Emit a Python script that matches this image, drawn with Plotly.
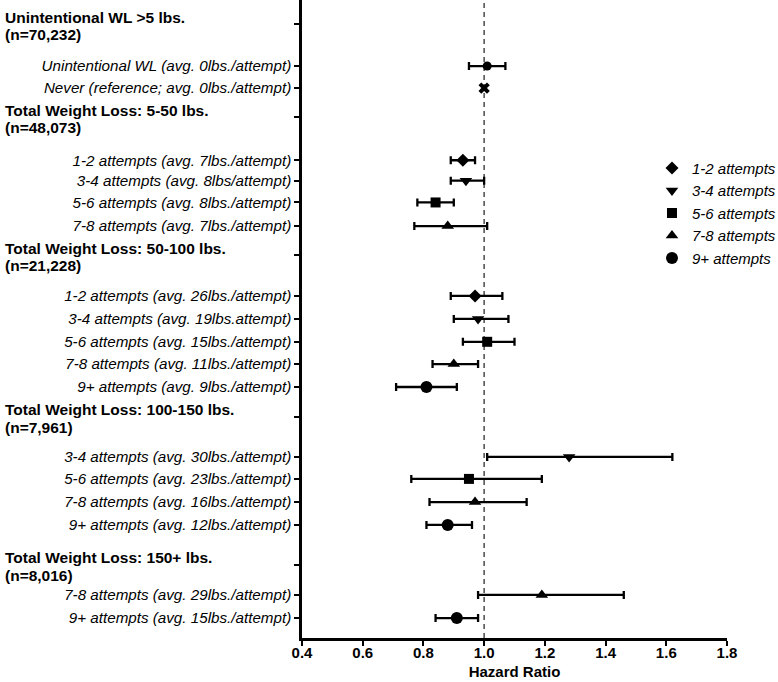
import plotly.graph_objects as go

# header rows (left aligned, bold, two lines)
HEADERS = [
    ("Unintentional WL >5 lbs.", "(n=70,232)"),
    ("Total Weight Loss: 5-50 lbs.", "(n=48,073)"),
    ("Total Weight Loss: 50-100 lbs.", "(n=21,228)"),
    ("Total Weight Loss: 100-150 lbs.", "(n=7,961)"),
    ("Total Weight Loss: 150+ lbs.", "(n=8,016)"),
]

ROW_LABELS = [
    "Unintentional WL (avg. 0lbs./attempt)",
    "Never (reference; avg. 0lbs./attempt)",
    "1-2 attempts (avg. 7lbs./attempt)",
    "3-4 attempts (avg. 8lbs/attempt)",
    "5-6 attempts (avg. 8lbs./attempt)",
    "7-8 attempts (avg. 7lbs./attempt)",
    "1-2 attempts (avg. 26lbs./attempt)",
    "3-4 attempts (avg. 19lbs.attempt)",
    "5-6 attempts (avg. 15lbs./attempt)",
    "7-8 attempts (avg. 11lbs./attempt)",
    "9+ attempts (avg. 9lbs./attempt)",
    "3-4 attempts (avg. 30lbs./attempt)",
    "5-6 attempts (avg. 23lbs./attempt)",
    "7-8 attempts (avg. 16lbs./attempt)",
    "9+ attempts (avg. 12lbs./attempt)",
    "7-8 attempts (avg. 29lbs./attempt)",
    "9+ attempts (avg. 15lbs./attempt)",
]
ROW_GROUP = ["uwl", "ref", "1-2", "3-4", "5-6", "7-8",
             "1-2", "3-4", "5-6", "7-8", "9+",
             "3-4", "5-6", "7-8", "9+",
             "7-8", "9+"]
HR = [1.01, 1.00, 0.93, 0.94, 0.84, 0.88,
      0.97, 0.98, 1.01, 0.90, 0.81,
      1.28, 0.95, 0.97, 0.88,
      1.19, 0.91]
CI_LO = [0.95, None, 0.89, 0.89, 0.78, 0.77,
         0.89, 0.90, 0.93, 0.83, 0.71,
         1.01, 0.76, 0.82, 0.81,
         0.98, 0.84]
CI_HI = [1.07, None, 0.97, 1.00, 0.90, 1.01,
         1.06, 1.08, 1.10, 0.98, 0.91,
         1.62, 1.19, 1.14, 0.96,
         1.46, 0.98]

# vertical layout (row units from the top)
HEADER_Y = [0.0, 4.10, 10.18, 17.31, 23.83]
ROW_Y = [1.85, 2.82,
         6.0, 6.9, 7.86, 8.9,
         11.98, 12.99, 14.0, 14.98, 15.99,
         19.07, 20.04, 21.06, 22.07,
         25.15, 26.17]

SYMBOLS = {
    "uwl": ("circle", 9),
    "ref": ("x", 10),
    "1-2": ("diamond", 10),
    "3-4": ("triangle-down", 11),
    "5-6": ("square", 10),
    "7-8": ("triangle-up", 11),
    "9+": ("circle", 12),
}
LEGEND_NAMES = {"1-2": "1-2 attempts", "3-4": "3-4 attempts", "5-6": "5-6 attempts",
                "7-8": "7-8 attempts", "9+": "9+ attempts"}

FONT = "Liberation Sans, Arial, sans-serif"

fig = go.Figure()

fig.add_vline(x=1.0, line=dict(color="#555555", width=1.6, dash="5px,4px"), layer="below")

for key in ["uwl", "ref", "1-2", "3-4", "5-6", "7-8", "9+"]:
    idx = [i for i, g in enumerate(ROW_GROUP) if g == key]
    xs = [HR[i] for i in idx]
    ys = [ROW_Y[i] for i in idx]
    plus = [(CI_HI[i] - HR[i]) if CI_HI[i] is not None else 0 for i in idx]
    minus = [(HR[i] - CI_LO[i]) if CI_LO[i] is not None else 0 for i in idx]
    sym, size = SYMBOLS[key]
    fig.add_trace(go.Scatter(
        x=xs, y=ys, mode="markers",
        name=LEGEND_NAMES.get(key, key),
        showlegend=key in LEGEND_NAMES,
        marker=dict(symbol=sym, size=size, color="black", line=dict(width=0)),
        error_x=dict(type="data", symmetric=False, array=plus, arrayminus=minus,
                     color="black", thickness=2.3, width=4, visible=key != "ref"),
    ))

for (line1, line2), y in zip(HEADERS, HEADER_Y):
    for text, shift in ((line1.replace(">", "&gt;"), 7), (line2, -10.5)):
        fig.add_annotation(
            text=f"<b>{text}</b>",
            xref="paper", yref="y", x=-0.7035, y=y, yshift=shift,
            xanchor="left", yanchor="middle", align="left", showarrow=False,
            font=dict(family=FONT, size=15.5, color="black"),
        )

tickvals = HEADER_Y + ROW_Y
ticktext = [""] * len(HEADER_Y) + ROW_LABELS

fig.update_layout(
    width=778, height=682,
    margin=dict(l=302, r=51, t=0, b=44, autoexpand=False),
    paper_bgcolor="white", plot_bgcolor="white",
    font=dict(family=FONT, size=15, color="black"),
    legend=dict(
        x=0.8235, y=0.762, xanchor="left", yanchor="top",
        font=dict(family=FONT, size=15, style="italic", color="black"),
        bgcolor="rgba(0,0,0,0)", tracegroupgap=0,
    ),
)
fig.update_xaxes(
    range=[0.4, 1.8], tickvals=[0.4, 0.6, 0.8, 1.0, 1.2, 1.4, 1.6, 1.8], tickformat=".1f",
    showline=True, linecolor="black", linewidth=2.5, showgrid=False, zeroline=False,
    ticks="outside", ticklen=5, tickwidth=2, tickcolor="black",
    tickfont=dict(family=FONT, size=15, weight="bold"),
    ticklabelstandoff=-6,
    title=dict(text="<b>Hazard Ratio</b>", font=dict(family=FONT, size=15), standoff=7),
)
fig.update_yaxes(
    range=[27.05, -1.06], tickvals=tickvals, ticktext=ticktext,
    showline=True, linecolor="black", linewidth=2.5, showgrid=False, zeroline=False,
    ticks="outside", ticklen=5, tickwidth=2, tickcolor="black",
    tickfont=dict(family=FONT, size=15.2, style="italic"),
    ticklabelstandoff=0,
)

# drop the default 8px page margin so the figure sits at the window corner
fig.write_html("out.html", config={"displayModeBar": False},
               post_script="document.body.style.margin = '0';")
